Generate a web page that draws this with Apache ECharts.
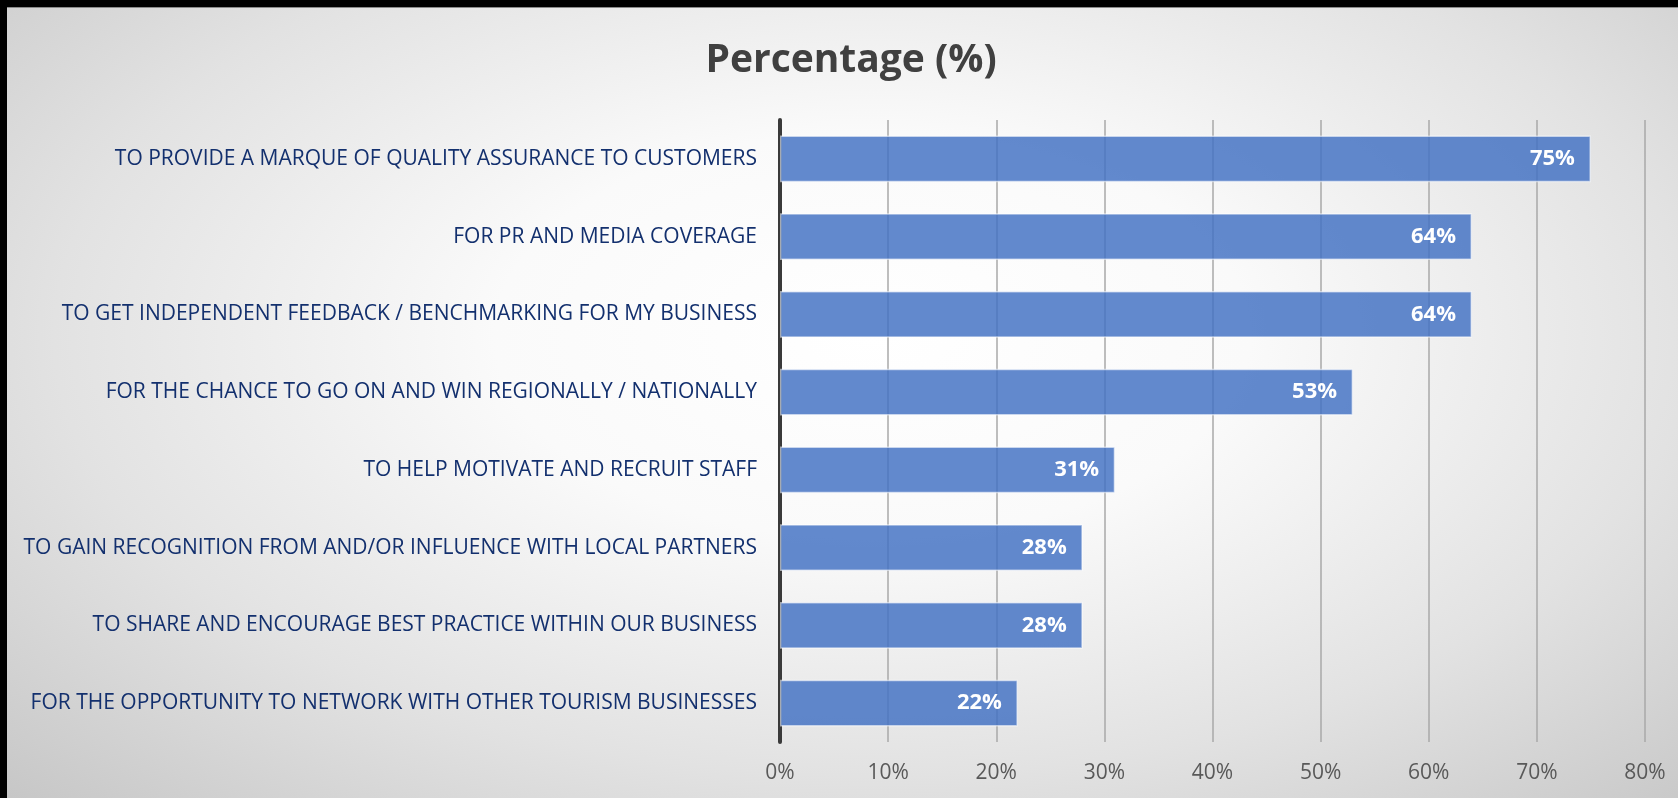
<!DOCTYPE html>
<html>
<head>
<meta charset="utf-8">
<script src="https://cdn.jsdelivr.net/npm/echarts@6/dist/echarts.min.js"></script>
<style>
  html, body { margin: 0; padding: 0; }
  #wrap { position: relative; width: 1678px; height: 798px; overflow: hidden;
    background: radial-gradient(ellipse 75% 85% at 52% 42%, #ffffff 0%, #fafafa 30%, #e2e2e2 65%, #c4c4c4 100%); }
  #chart { position: absolute; left: 0; top: 0; width: 1678px; height: 798px; }
  .bt { position: absolute; left: 0; top: 0; width: 1678px; height: 7px; background: #000; border-bottom: 1px solid #8a8a8a; }
  .bl { position: absolute; left: 0; top: 0; width: 7px; height: 798px; background: #000; }
</style>
</head>
<body>
<div id="wrap">
  <div id="chart"></div>
  <div class="bt"></div>
  <div class="bl"></div>
</div>
<script>
const titleText = 'Percentage (%)';
const categories = [
  'TO PROVIDE A MARQUE OF QUALITY ASSURANCE TO CUSTOMERS',
  'FOR PR AND MEDIA COVERAGE',
  'TO GET INDEPENDENT FEEDBACK / BENCHMARKING FOR MY BUSINESS',
  'FOR THE CHANCE TO GO ON AND WIN REGIONALLY / NATIONALLY',
  'TO HELP MOTIVATE AND RECRUIT STAFF',
  'TO GAIN RECOGNITION FROM AND/OR INFLUENCE WITH LOCAL PARTNERS',
  'TO SHARE AND ENCOURAGE BEST PRACTICE WITHIN OUR BUSINESS',
  'FOR THE OPPORTUNITY TO NETWORK WITH OTHER TOURISM BUSINESSES'
];
const values = [75, 64, 64, 53, 31, 28, 28, 22];
const axisMin = 0, axisMax = 80, axisStep = 10;

const chart = echarts.init(document.getElementById('chart'));
chart.setOption({
  backgroundColor: 'transparent',
  animation: false,
  title: {
    text: titleText,
    left: 846, top: 36, textAlign: 'center',
    textStyle: { fontFamily: 'Open Sans', fontWeight: 'bold', fontSize: 39, color: '#404040' }
  },
  grid: { left: 780, right: 33, top: 120, bottom: 56, containLabel: false },
  xAxis: {
    type: 'value', min: axisMin, max: axisMax, interval: axisStep,
    axisLine: { show: false }, axisTick: { show: false },
    axisLabel: { formatter: '{value}%', color: '#595959', fontFamily: 'Open Sans', fontSize: 21, margin: 21 },
    splitLine: { show: true, lineStyle: { color: '#a8a8a8', width: 1.5 } }
  },
  yAxis: {
    type: 'category', data: categories, inverse: true,
    axisLine: { show: true, lineStyle: { color: '#3a3a3a', width: 4 } },
    axisTick: { show: false },
    axisLabel: { color: '#13306e', fontFamily: 'Open Sans', fontSize: 21, margin: 23 }
  },
  series: [{
    type: 'bar', data: values, barCategoryGap: '40%',
    itemStyle: { color: 'rgba(68,114,196,0.84)', borderColor: 'rgba(255,255,255,0.55)', borderWidth: 1.5 },
    label: { show: true, position: 'insideRight', distance: 16, formatter: '{c}%',
      color: '#ffffff', fontFamily: 'Open Sans', fontWeight: 'bold', fontSize: 22 }
  }]
});
</script>
</body>
</html>
